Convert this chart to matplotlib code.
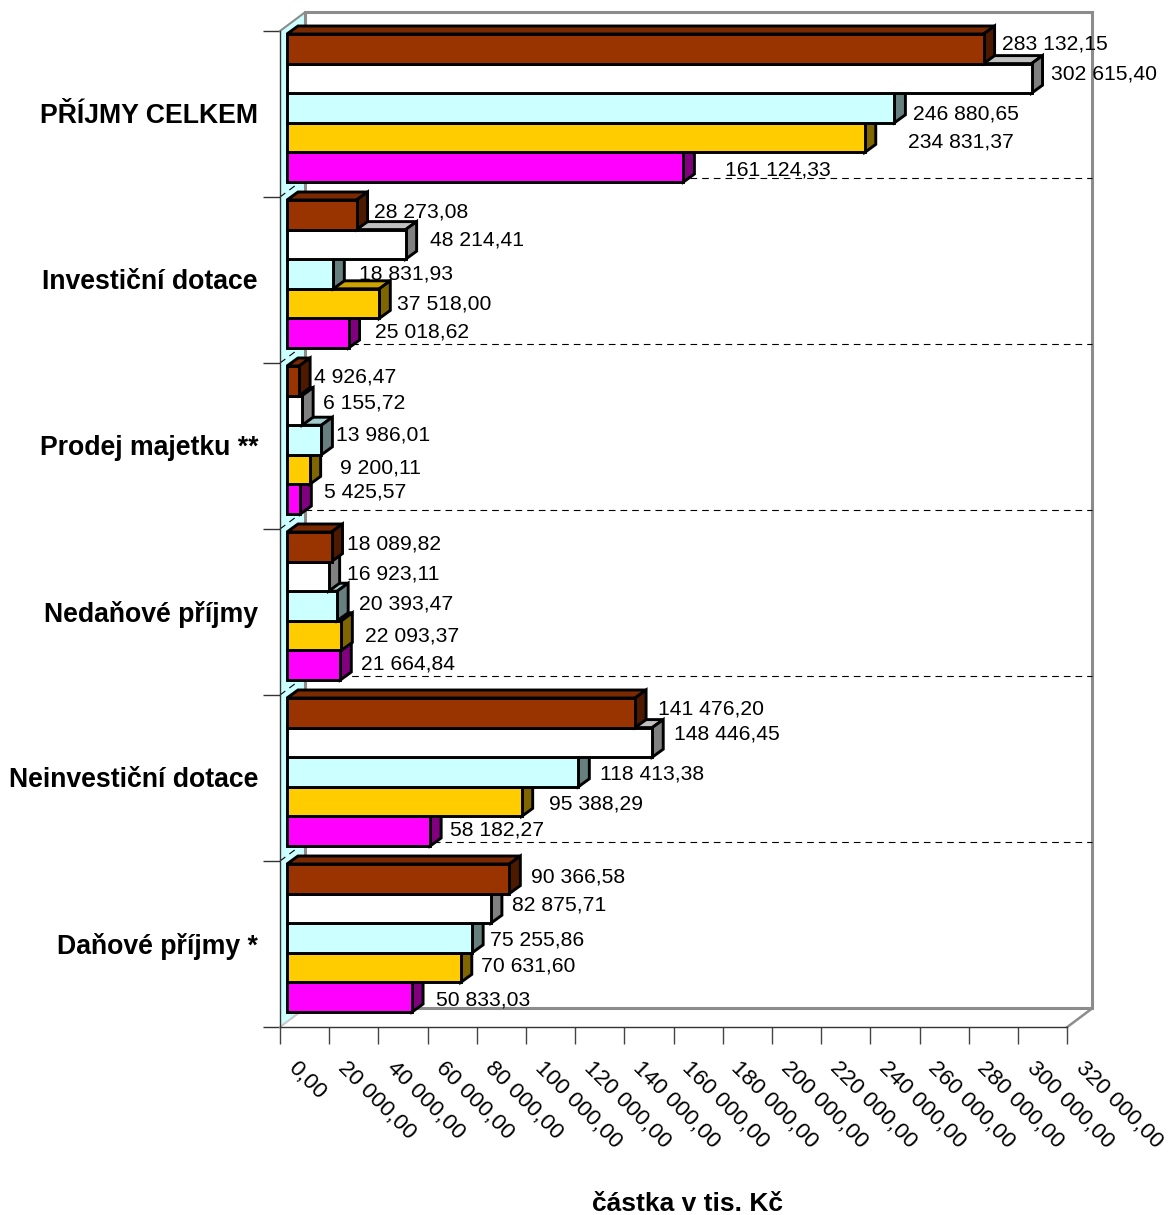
import matplotlib
matplotlib.use("Agg")
import matplotlib.pyplot as plt
from matplotlib.patches import Polygon
from matplotlib.transforms import ScaledTranslation

plt.rcParams['font.family'] = ['Liberation Sans', 'DejaVu Sans']

categories = ["PŘÍJMY CELKEM", "Investiční dotace", "Prodej majetku **",
              "Nedaňové příjmy", "Neinvestiční dotace", "Daňové příjmy *"]
series_1 = [283132.15, 28273.08, 4926.47, 18089.82, 141476.20, 90366.58]
series_2 = [302615.40, 48214.41, 6155.72, 16923.11, 148446.45, 82875.71]
series_3 = [246880.65, 18831.93, 13986.01, 20393.47, 118413.38, 75255.86]
series_4 = [234831.37, 37518.00, 9200.11, 22093.37, 95388.29, 70631.60]
series_5 = [161124.33, 25018.62, 5425.57, 21664.84, 58182.27, 50833.03]
all_series = [series_1, series_2, series_3, series_4, series_5]
xticks = list(range(0, 320001, 20000))

colors = ["#993300", "#FFFFFF", "#CCFFFF", "#FFCC00", "#FF00FF"]

# label nudges in pixels (gap from bar end, shift from bar centre), per series row
label_dx = [[18.4, 19.5, 18.6, 43, 41.6], [17.4, 24.4, 25.7, 17.7, 26.4], [15, 21, 14.6, 30, 23.7],
            [15.5, 18.4, 21.8, 23.6, 20.7], [23, 22, 21.7, 27, 20], [21.7, 21, 18, 20, 24]]
label_dy = [[-6, -6, 4, 2, 0], [-4, -6, -2, -2, -4], [-5, -9, -7, -4, -10],
            [-4, -4, -4, -2, -3], [-5, -10, 0, 0, -4], [-3, -5, 0, -4, 0]]

W, H = 1170, 1215
L, R, T, B = 280, 1067.3, 31, 1027
fig = plt.figure(figsize=(W / 100, H / 100), dpi=100)
ax = fig.add_axes([L / W, 1 - B / H, (R - L) / W, (B - T) / H])
ax.set_xlim(0, 320000)
ax.set_ylim(6, 0)
PT = 72 / 100
px_x = 320000 / (R - L)            # data per pixel, x
px_y = 6 / (B - T)                 # data per pixel, y
WX, WY = 25 * px_x, 18.7 * px_y    # depth of the wall
DX, DY = 11 * px_x, 8 * px_y       # depth of a bar
GAP_X, GAP_Y = 7 * px_x, 3 * px_y
BAR_H = 29.6 * px_y


def lit(c, f):
    r, g, b = matplotlib.colors.to_rgb(c)
    return (r * f, g * f, b * f)


def wall(points, face, edge, lw, z=1):
    ax.add_patch(Polygon(points, closed=True, facecolor=face, edgecolor=edge, lw=lw,
                         zorder=z, clip_on=False, joinstyle='miter'))


# side wall, floor, back wall
grey = "#8C8C8C"
wall([(0, 0), (WX, -WY), (WX, 6 - WY), (0, 6)], "#CCFFFF", "none", 0)
wall([(0, 6), (WX, 6 - WY), (320000 + WX, 6 - WY), (320000, 6)], "white", "none", 0)
wall([(WX, -WY), (320000 + WX, -WY), (320000 + WX, 6 - WY), (WX, 6 - WY)], "white", grey, 2.2)
ax.plot([0, WX], [0, -WY], color=grey, lw=1.5, zorder=2, clip_on=False)
ax.plot([0, WX], [6, 6 - WY], color="#C8C8C8", lw=1.5, zorder=2, clip_on=False)
ax.plot([320000, 320000 + WX], [6, 6 - WY], color=grey, lw=1.8, zorder=2, clip_on=False)

# dashed gridlines at the category boundaries
for b in range(1, 6):
    ax.plot([WX, 320000 + WX], [b - WY, b - WY], color="black", lw=0.8,
            dashes=(6, 4.5), zorder=2, clip_on=False)
    ax.plot([0, WX], [b, b - WY], color="black", lw=0.8, dashes=(6, 4.5), zorder=2, clip_on=False)

# bars
z = 3
for i in range(len(categories)):
    for j in range(4, -1, -1):
        v = all_series[j][i]
        c = colors[j]
        x0 = GAP_X
        x1 = GAP_X + v
        y0 = i + GAP_Y + j * BAR_H
        y1 = y0 + BAR_H
        kw = dict(closed=True, edgecolor="black", lw=2.1, joinstyle='miter', clip_on=False)
        ax.add_patch(Polygon([(x0, y0), (x0 + DX, y0 - DY), (x1 + DX, y0 - DY), (x1, y0)],
                             facecolor=lit(c, 0.8) if c != "#FFFFFF" else "#C0C0C0", zorder=z, **kw))
        ax.add_patch(Polygon([(x1, y0), (x1 + DX, y0 - DY), (x1 + DX, y1 - DY), (x1, y1)],
                             facecolor=lit(c, 0.5), zorder=z, **kw))
        ax.add_patch(Polygon([(x0, y0), (x1, y0), (x1, y1), (x0, y1)],
                             facecolor=c, zorder=z, **kw))
        z += 1

# data labels
for i in range(len(categories)):
    for j in range(5):
        v = all_series[j][i]
        txt = f"{v:,.2f}".replace(",", " ").replace(".", ",")
        ax.annotate(txt, xy=(GAP_X + v, i + GAP_Y + (j + 0.5) * BAR_H),
                    xytext=(label_dx[i][j] * PT, -(label_dy[i][j] + 1.5 + 0.2 * j) * PT),
                    textcoords='offset points',
                    ha='left', va='center', fontsize=15.25, color="black", zorder=50,
                    annotation_clip=False)

# axes
for s in ('top', 'right'):
    ax.spines[s].set_visible(False)
for s in ('left', 'bottom'):
    ax.spines[s].set_color("#333333")
    ax.spines[s].set_linewidth(1.0)
    ax.spines[s].set_zorder(2)
ax.patch.set_visible(False)

ax.set_xticks(xticks)
ax.set_xticklabels([f"{t:,.2f}".replace(",", " ").replace(".", ",") for t in xticks],
                   rotation=-45, ha='left', va='top', rotation_mode='anchor', fontsize=16.2)
ax.tick_params(axis='x', length=17 * PT, width=1.0, color="#444444", pad=10 * PT)
ax.set_yticks(range(7))
ax.set_yticklabels([""] * 7)
ax.tick_params(axis='y', which='major', length=17 * PT, width=1.0, color="#333333")
ax.set_yticks([i + 0.5 for i in range(6)], minor=True)
ax.set_yticklabels(categories, minor=True, fontsize=19.2, fontweight='bold', ha='right')
ax.tick_params(axis='y', which='minor', length=0, pad=22 * PT)
shift = ScaledTranslation(19 / 100, -3.5 / 100, fig.dpi_scale_trans)
for lab in ax.get_xticklabels():
    lab.set_transform(lab.get_transform() + shift)
shift_y = ScaledTranslation(0, 1 / 100, fig.dpi_scale_trans)
for lab in ax.get_yticklabels(minor=True):
    lab.set_transform(lab.get_transform() + shift_y)

ax.set_xlabel("částka v tis. Kč", fontsize=19, fontweight='bold', va='center')
ax.xaxis.set_label_coords((688 - L) / (R - L), -(1204 - B) / (B - T))

fig.savefig("out.png", dpi=100)
